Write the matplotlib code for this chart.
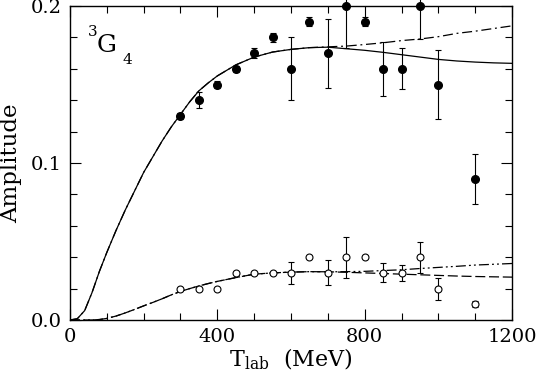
import numpy as np
import matplotlib
matplotlib.use("Agg")
import matplotlib.pyplot as plt
from matplotlib.ticker import MultipleLocator

plt.rcParams['font.family'] = ['DejaVu Serif']
plt.rcParams['mathtext.fontset'] = 'dejavuserif'

# data points (filled) : T_lab, amplitude, error
t_full = [300, 350, 400, 450, 500, 550, 600, 650, 700, 750, 800, 850, 900, 950, 1000, 1100]
a_full = [0.13, 0.14, 0.15, 0.16, 0.17, 0.18, 0.16, 0.19, 0.17, 0.20, 0.19, 0.16, 0.16, 0.20, 0.15, 0.09]
e_full = [0.002, 0.005, 0.002, 0.002, 0.003, 0.003, 0.02, 0.003, 0.022, 0.027, 0.003, 0.017, 0.013, 0.021, 0.022, 0.016]

# data points (open)
t_open = [300, 350, 400, 450, 500, 550, 600, 650, 700, 750, 800, 850, 900, 950, 1000, 1100]
a_open = [0.02, 0.02, 0.02, 0.03, 0.03, 0.03, 0.03, 0.04, 0.03, 0.04, 0.04, 0.03, 0.03, 0.04, 0.02, 0.01]
e_open = [0, 0, 0, 0, 0, 0, 0.007, 0, 0.008, 0.013, 0, 0.006, 0.005, 0.01, 0.007, 0.002]

# curves
t_curve = [0, 20, 40, 60, 80, 100, 125, 150, 175, 200, 225, 250, 275, 300, 325, 350, 375, 400,
           450, 500, 550, 600, 650, 700, 750, 800, 850, 900, 950, 1000, 1050, 1100, 1150, 1200]
solid = [0, 0.0008, 0.006, 0.0175, 0.031, 0.043, 0.057, 0.070, 0.082, 0.094, 0.104, 0.114,
         0.123, 0.131, 0.139, 0.146, 0.151, 0.1555, 0.1625, 0.1675, 0.1707, 0.1724, 0.1735,
         0.1738, 0.1728, 0.1718, 0.1705, 0.169, 0.1675, 0.166, 0.165, 0.1643, 0.1638, 0.1635]
dashdot = [0, 0.0008, 0.006, 0.0175, 0.031, 0.043, 0.057, 0.070, 0.082, 0.094, 0.104, 0.114,
           0.123, 0.131, 0.139, 0.146, 0.151, 0.1555, 0.1625, 0.1675, 0.1707, 0.1724, 0.1735,
           0.174, 0.1745, 0.1755, 0.1766, 0.178, 0.179, 0.1805, 0.1826, 0.184, 0.1857, 0.1874]
dashed = [0, 0, 0, 0, 0.0003, 0.001, 0.0025, 0.0045, 0.0067, 0.009, 0.0112, 0.0135, 0.016,
          0.0182, 0.020, 0.0217, 0.0232, 0.0246, 0.027, 0.0292, 0.030, 0.0305, 0.0308, 0.0307,
          0.0304, 0.030, 0.0296, 0.0292, 0.0288, 0.0284, 0.028, 0.0277, 0.0275, 0.0273]
dashdotdot = [0, 0, 0, 0, 0.0003, 0.001, 0.0025, 0.0045, 0.0067, 0.009, 0.0112, 0.0135, 0.016,
              0.0182, 0.020, 0.0217, 0.0232, 0.0246, 0.027, 0.0292, 0.030, 0.0305, 0.0308,
              0.0307, 0.0308, 0.031, 0.0315, 0.032, 0.0328, 0.0335, 0.0342, 0.035, 0.0355, 0.036]

fig = plt.figure(figsize=(5.38, 3.90), dpi=100)
ax = fig.add_axes([0.130, 0.1795, 0.822, 0.805])

# lines
ax.plot(t_curve, solid, color='black', lw=0.9)
ax.plot(t_curve, dashdot, color='black', lw=0.9, dashes=[8, 3, 1.5, 3])
ax.plot(t_curve, dashed, color='black', lw=0.9, dashes=[8, 3])
ax.plot(t_curve, dashdotdot, color='black', lw=0.9, dashes=[8, 2.5, 1.5, 2.5, 1.5, 2.5])

# points
ax.errorbar(t_full, a_full, yerr=e_full, fmt='o', color='black', ms=5.5,
            capsize=2.5, elinewidth=0.8, capthick=0.8, clip_on=False, zorder=3)
ax.errorbar(t_open, a_open, yerr=e_open, fmt='o', mfc='white', mec='black', color='black',
            ms=5, mew=0.8, capsize=2.5, elinewidth=0.8, capthick=0.8, zorder=3)

ax.set_xlim(0, 1200)
ax.set_ylim(0, 0.2)
ax.xaxis.set_major_locator(MultipleLocator(400))
ax.xaxis.set_minor_locator(MultipleLocator(100))
ax.yaxis.set_major_locator(MultipleLocator(0.1))
ax.yaxis.set_minor_locator(MultipleLocator(0.02))
ax.yaxis.set_major_formatter(plt.FormatStrFormatter('%.1f'))
ax.tick_params(which='both', direction='in', top=True, right=True, labelsize=14, width=0.8)
ax.tick_params(which='major', length=8, pad=6)
ax.tick_params(which='minor', length=5)
for s in ax.spines.values():
    s.set_linewidth(1.0)

ax.set_ylabel('Amplitude', fontsize=16.5, labelpad=6)
ax.set_xlabel(r'T$_{\mathregular{lab}}$  (MeV)', fontsize=16, labelpad=0)

# partial-wave label
ax.text(0.040, 0.905, '3', transform=ax.transAxes, fontsize=11)
ax.text(0.060, 0.855, 'G', transform=ax.transAxes, fontsize=18)
ax.text(0.118, 0.815, '4', transform=ax.transAxes, fontsize=11)

fig.savefig('out.png', dpi=100)
